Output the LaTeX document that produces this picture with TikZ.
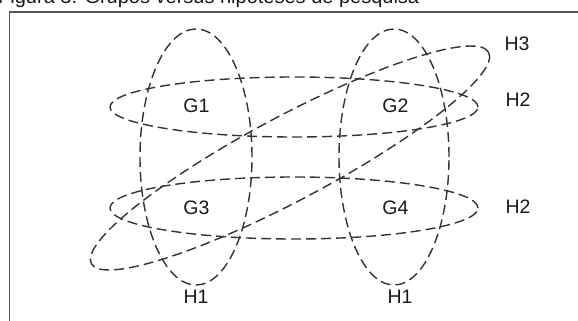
\documentclass[tikz,border=0pt]{standalone}
\usepackage{fontspec}
\setmainfont{Liberation Sans}
\definecolor{linegray}{HTML}{333333}
\definecolor{framegray}{HTML}{555555}
\begin{document}
\begin{tikzpicture}[x=1pt,y=-1pt,
  ell/.style={draw=linegray, line width=1.4pt, dash pattern=on 10pt off 5pt},
  lbl/.style={inner sep=0pt, text=black!90, font=\fontsize{19.5}{20}\selectfont},
  frm/.style={draw=framegray, line width=1.5pt}]
\useasboundingbox (0,0) rectangle (578,321);
% caption, cut at the top edge as in the reference
\node[anchor=base west, inner sep=0pt, text=black!90, font=\fontsize{20}{20}\selectfont] (cap) at (-2,4) {Figura 3. Grupos versus hipóteses de pesquisa};
% frame
\draw[frm] (9.5,330) -- (9.5,12) -- (590,12);
% H1 ellipses (vertical)
\draw[ell] (196,157) ellipse [x radius=56pt, y radius=128pt];
\draw[ell] (394,157) ellipse [x radius=55pt, y radius=128pt];
% H2 ellipses (horizontal)
\draw[ell] (294,107) ellipse [x radius=184pt, y radius=30pt];
\draw[ell] (294,208) ellipse [x radius=184pt, y radius=31pt];
% H3 ellipse (tilted)
\draw[ell, rotate around={28:(290,158)}] (290,158) ellipse [x radius=225pt, y radius=42pt];
% labels
\node[lbl] (g1) at (196.5,106) {G1};
\node[lbl] (g2) at (395.5,106) {G2};
\node[lbl] (g3) at (196.5,208) {G3};
\node[lbl] (g4) at (395.5,208) {G4};
\node[lbl] (h1a) at (196,297) {H1};
\node[lbl] (h1b) at (400,297) {H1};
\node[lbl] (h2a) at (518,100) {H2};
\node[lbl] (h2b) at (518,207) {H2};
\node[lbl] (h3) at (517,44) {H3};
\end{tikzpicture}
\end{document}
